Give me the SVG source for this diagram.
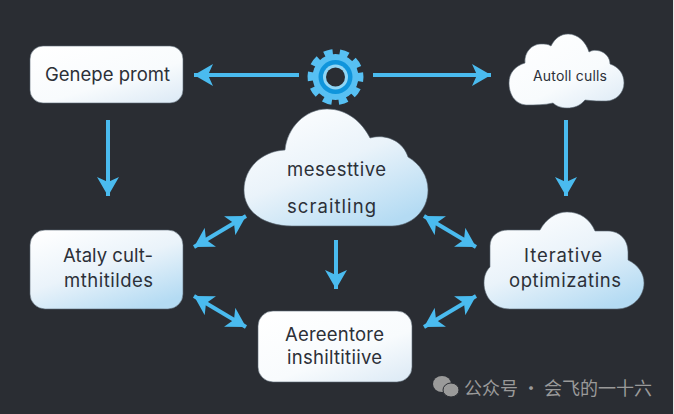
<svg xmlns="http://www.w3.org/2000/svg" width="674" height="414" viewBox="0 0 674 414">
<style>
.t{font-family:"Inter","Liberation Sans",sans-serif;fill:#2c3038;font-weight:400;font-size:18.5px}
.n{stroke:#5d6a76;stroke-width:.6}
.c{stroke:#4abbef;stroke-width:4;fill:none}
</style>
<defs>
<linearGradient id="g" x1="0.1" y1="0" x2="0.75" y2="1"><stop offset="0" stop-color="#fff"/><stop offset=".5" stop-color="#eaf3fa"/><stop offset="1" stop-color="#b4dbf3"/></linearGradient>
<linearGradient id="w" x1="0.1" y1="0" x2="0.9" y2="1"><stop offset="0" stop-color="#fff"/><stop offset=".6" stop-color="#f8fbfd"/><stop offset="1" stop-color="#deebf6"/></linearGradient>
<marker id="a" viewBox="0 0 20 22" refX="19" refY="11" markerWidth="20" markerHeight="22" markerUnits="userSpaceOnUse" orient="auto-start-reverse"><path d="M19 11 L0 0 L5 11 L0 22Z" fill="#4abbef"/></marker>
</defs>
<rect width="674" height="414" fill="#2a2d33"/>
<rect x="673" width="1" height="414" fill="#e8e8e8"/>
<g id="connectors">
<path class="c" d="M299 75H194" marker-end="url(#a)"/>
<path class="c" d="M373 75H491" marker-end="url(#a)"/>
<path class="c" d="M108 120V196" marker-end="url(#a)"/>
<path class="c" d="M566 120V196" marker-end="url(#a)"/>
<path class="c" d="M336 240V289" marker-end="url(#a)"/>
<path class="c" d="M194 247L246 216" marker-start="url(#a)" marker-end="url(#a)"/>
<path class="c" d="M194 296L246 327" marker-start="url(#a)" marker-end="url(#a)"/>
<path class="c" d="M424 216L476 247" marker-start="url(#a)" marker-end="url(#a)"/>
<path class="c" d="M424 327L476 296" marker-start="url(#a)" marker-end="url(#a)"/>
</g>
<g id="gear">
<circle cx="335.500" cy="77" r="23" fill="#57c0f3"/>
<circle cx="335.500" cy="77" r="24.500" fill="none" stroke="#57c0f3" stroke-width="7" stroke-dasharray="8.600 6.794" transform="rotate(-10 335.500 77)"/>
<circle cx="335.500" cy="77" r="17" fill="#0f95dc"/>
<circle cx="335.500" cy="77" r="12.500" fill="#8fd6f6"/>
<circle cx="335.500" cy="77" r="9.500" fill="#2a2d33"/>
</g>
<g id="genepe"><rect class="n" x="30" y="46" width="153" height="57" rx="13" fill="url(#w)"/><text class="t" x="45" y="81" textLength="125" lengthAdjust="spacing">Genepe promt</text></g>
<g id="autoll"><path class="n" fill="url(#w)" d="M526 105C514 104 509 93 509 83C509 73 515 66 525 63C524 52 532 44 541 44C545 44 548 44 551 46C555 38 561 34 568 34C578 34 586 42 589 52C592 50 596 50 600 51C606 53 610 58 610 64C619 67 624 74 624 83C624 93 616 101 606 101C600 101 593 101 585 100C580 106 574 108 567 108C561 108 556 106 553 103C545 105 535 105 526 105Z"/><text class="t" x="533" y="81" style="font-size:14px" textLength="74" lengthAdjust="spacing">Autoll culls</text></g>
<g id="mesesttive"><path class="n" fill="url(#g)" d="M292 226C264 226 244 212 244 190C244 168 262 151 285 150C287 128 305 109 327 109C347 109 362 122 370 138C388 133 404 143 408 157C420 164 428 176 428 190C428 212 410 226 392 226Z"/><text class="t" x="287" y="176" textLength="99" lengthAdjust="spacing">mesesttive</text><text class="t" x="287" y="213" textLength="89" lengthAdjust="spacing">scraitling</text></g>
<g id="ataly"><rect class="n" x="30" y="230" width="153" height="79" rx="15" fill="url(#g)"/><text class="t" x="63" y="262" textLength="90" lengthAdjust="spacing">Ataly cult-</text><text class="t" x="64" y="287" textLength="89" lengthAdjust="spacing">mthitildes</text></g>
<g id="aereentore"><rect class="n" x="258" y="311" width="154" height="71" rx="15" fill="url(#w)"/><text class="t" x="285" y="341" textLength="99" lengthAdjust="spacing">Aereentore</text><text class="t" x="287" y="364" textLength="95" lengthAdjust="spacing">inshiltitiive</text></g>
<g id="iterative"><path class="n" fill="url(#g)" d="M510 309C494 309 484 297 484 283C484 276 486 271 490 267V246C490 236 498 230 508 230H540C546 219 556 212 567 212C580 212 590 219 595 231H608C620 231 628 240 628 252V260C638 265 644 273 644 283C644 297 632 309 617 309Z"/><text class="t" x="524" y="262" textLength="78" lengthAdjust="spacing">Iterative</text><text class="t" x="509" y="287" textLength="112" lengthAdjust="spacing">optimizatins</text></g>
<g id="watermark" fill="#9a9a9a">
<ellipse cx="442" cy="384" rx="9" ry="8"/><ellipse cx="451" cy="390" rx="8" ry="7" stroke="#2a2d33"/>
<text x="464" y="395" font-size="18" textLength="188" lengthAdjust="spacing" font-family="'Noto Sans CJK SC',sans-serif">公众号 · 会飞的一十六</text>
</g>
</svg>
